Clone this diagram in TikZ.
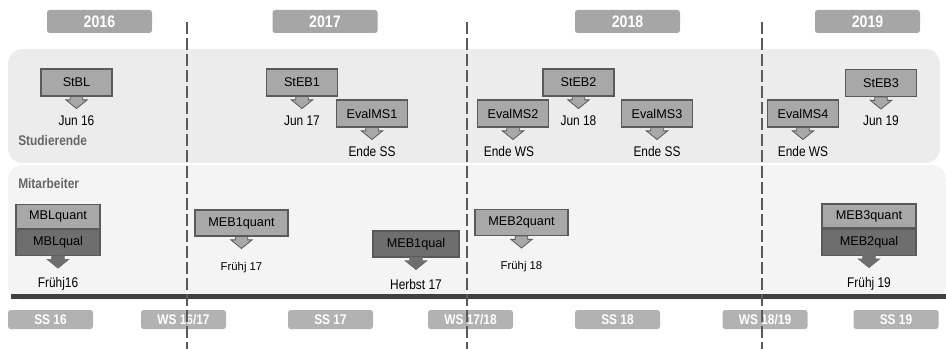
\documentclass[tikz,border=0pt]{standalone}
\usepackage{fontspec}
\setmainfont{Liberation Sans}
\newfontfamily\narrowsans[FakeStretch=0.85]{Liberation Sans}
\usetikzlibrary{positioning}
\definecolor{yeargray}{HTML}{A6A6A6}
\definecolor{termgray}{HTML}{B2B2B2}
\definecolor{panelstud}{HTML}{ECECEC}
\definecolor{panelstaff}{HTML}{F4F4F4}
\definecolor{boxgray}{HTML}{A8A8A8}
\definecolor{boxedge}{HTML}{5A5A5A}
\definecolor{qualgray}{HTML}{6E6E6E}
\definecolor{linedark}{HTML}{404040}
\definecolor{groupgray}{HTML}{666666}

% block arrow hanging below a box, tip named <box>tip
\newcommand\droparrow[2]{%
  \draw[#2] ([xshift=-4.75pt]#1.south) -- ++(0,-2.5pt) -- ++(-3.25pt,0)
    -- ([yshift=-9pt]#1.south) -- ([xshift=8pt,yshift=-2.5pt]#1.south)
    -- ++(-3.25pt,0) -- ([xshift=4.75pt]#1.south) -- cycle;
  \coordinate (#1tip) at ([yshift=-9pt]#1.south);
}

\begin{document}
\begin{tikzpicture}[
  x=0.75pt, y=-0.75pt,
  year/.style={
    rectangle, rounded corners=2pt, fill=yeargray, text=white,
    minimum width=78.75pt, minimum height=17.25pt, inner sep=0pt,
    font=\narrowsans\fontsize{12.5}{14}\selectfont\bfseries
  },
  term/.style={
    rectangle, rounded corners=2pt, fill=termgray, text=white,
    minimum width=63.75pt, minimum height=14.25pt, inner sep=0pt,
    font=\narrowsans\fontsize{10.5}{12}\selectfont\bfseries
  },
  event/.style={
    rectangle, draw=boxedge, fill=boxgray, line width=0.8pt,
    minimum width=53.25pt, minimum height=20.25pt, inner sep=0pt,
    font=\fontsize{9.5}{11}\selectfont
  },
  staff/.style={event, minimum width=69.75pt, minimum height=19.5pt},
  qual/.style={staff, fill=qualgray},
  darrow/.style={draw=boxedge, fill=boxgray, line width=0.6pt, line join=miter},
  qarrow/.style={draw=qualgray, fill=qualgray, line width=0.6pt},
  when/.style={font=\narrowsans\fontsize{10.5}{12}\selectfont, inner sep=0pt},
  whensmall/.style={font=\fontsize{8.5}{10}\selectfont, inner sep=0pt},
  group/.style={
    anchor=west, inner sep=0pt, text=groupgray,
    font=\narrowsans\fontsize{10.5}{12}\selectfont\bfseries
  },
  divider/.style={draw=boxedge, line width=1.1pt, dash pattern=on 9pt off 3pt},
]
\useasboundingbox (0,0) rectangle (946,349);

% Panels
\fill[panelstud, rounded corners=11pt] (8,49) rectangle (940,163);
\fill[panelstaff, rounded corners=11pt] (8,165) rectangle (946,300);
\node[group] (stud) at (18,140) {Studierende};
\node[group] (staffhead) at (18,183) {Mitarbeiter};

% Years
\node[year] (y16) at (99.5,21.5) {2016};
\node[year] (y17) at (325,21.5) {2017};
\node[year] (y18) at (627.5,21.5) {2018};
\node[year] (y19) at (867.5,21.5) {2019};

% Studierende
\node[event] (stbl) at (76.5,82.5) {StBL};
\droparrow{stbl}{darrow}
\node[when, below=5pt of stbltip] {Jun 16};

\node[event] (steb1) at (302,82.5) {StEB1};
\droparrow{steb1}{darrow}
\node[when, below=5pt of steb1tip] {Jun 17};

\node[event] (evalms1) at (372,113.5) {EvalMS1};
\droparrow{evalms1}{darrow}
\node[when, below=5pt of evalms1tip] {Ende SS};

\node[event] (evalms2) at (513,113.5) {EvalMS2};
\droparrow{evalms2}{darrow}
\node[when, below=5pt of evalms2tip, xshift=-3pt] {Ende WS};

\node[event] (steb2) at (578.5,82.5) {StEB2};
\droparrow{steb2}{darrow}
\node[when, below=5pt of steb2tip] {Jun 18};

\node[event] (evalms3) at (657,113.5) {EvalMS3};
\droparrow{evalms3}{darrow}
\node[when, below=5pt of evalms3tip] {Ende SS};

\node[event] (evalms4) at (803,113.5) {EvalMS4};
\droparrow{evalms4}{darrow}
\node[when, below=5pt of evalms4tip] {Ende WS};

\node[event] (steb3) at (881,83) {StEB3};
\droparrow{steb3}{darrow}
\node[when, below=5pt of steb3tip] {Jun 19};

% Mitarbeiter
\node[staff, minimum width=63pt, minimum height=18pt] (mblquant) at (58,216.5) {MBLquant};
\node[qual, minimum width=63pt, below=0pt of mblquant] (mblqual) {MBLqual};
\droparrow{mblqual}{qarrow}
\node[when, below=7pt of mblqualtip] {Frühj16};

\node[staff] (meb1quant) at (241.5,223) {MEB1quant};
\droparrow{meb1quant}{darrow}
\node[whensmall, below=10pt of meb1quanttip] {Frühj 17};

\node[qual, minimum width=64.5pt] (meb1qual) at (416,244) {MEB1qual};
\droparrow{meb1qual}{qarrow}
\node[when, below=7pt of meb1qualtip] {Herbst 17};

\node[staff] (meb2quant) at (521.5,222.5) {MEB2quant};
\droparrow{meb2quant}{darrow}
\node[whensmall, below=10pt of meb2quanttip] {Frühj 18};

\node[staff, minimum width=70.5pt, minimum height=18pt] (meb3quant) at (869,216) {MEB3quant};
\node[qual, minimum width=70.5pt, below=0pt of meb3quant] (meb2qual) {MEB2qual};
\droparrow{meb2qual}{qarrow}
\node[when, below=7pt of meb2qualtip] {Frühj 19};

% Timeline
\draw[linedark, line width=3.75pt] (11,296) -- (946,296);
\node[term] (ss16) at (50.5,319.5) {SS 16};
\node[term] (ws1617) at (183.5,319.5) {WS 16/17};
\node[term] (ss17) at (330.5,319.5) {SS 17};
\node[term] (ws1718) at (470.5,319.5) {WS 17/18};
\node[term] (ss18) at (617.5,319.5) {SS 18};
\node[term] (ws1819) at (765,319.5) {WS 18/19};
\node[term] (ss19) at (896,319.5) {SS 19};

% Semester boundaries
\foreach \x in {187,467,762}
  \draw[divider] (\x,22) -- (\x,349);

\end{tikzpicture}
\end{document}
